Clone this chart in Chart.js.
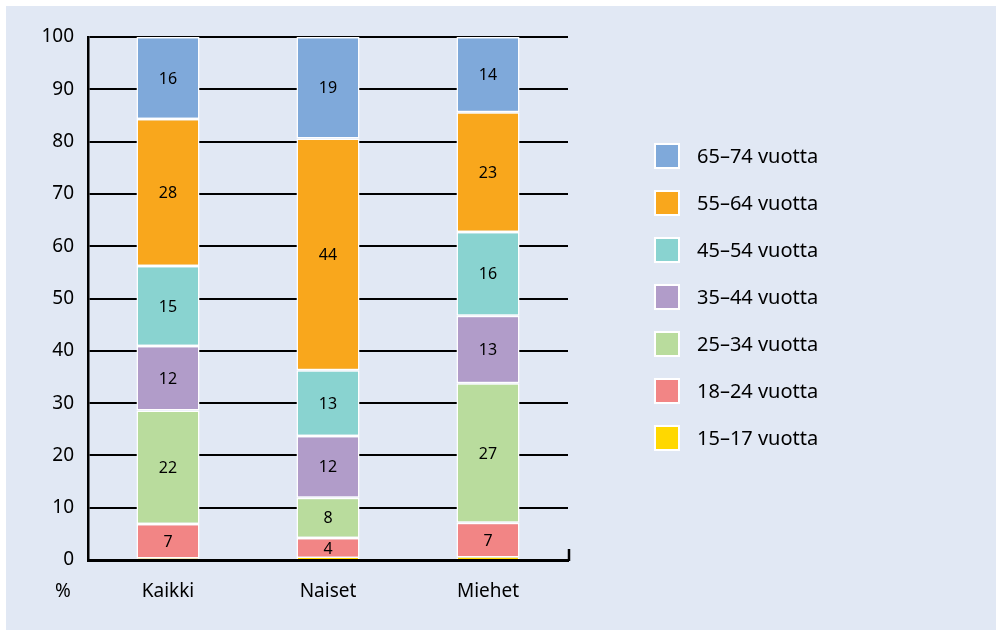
<!DOCTYPE html>
<html>
<head>
<meta charset="utf-8">
<script src="https://cdn.jsdelivr.net/npm/chart.js@4"></script>
<style>
  html, body { margin: 0; padding: 0; background: #ffffff; }
  #panel { position: absolute; left: 6px; top: 6px; width: 990px; height: 624px; background: #e1e8f4; }
  #chart { display: block; }
</style>
</head>
<body>
<div id="panel"><canvas id="chart" width="990" height="624"></canvas></div>
<script>
const categories = ["Kaikki", "Naiset", "Miehet"]

const ageGroups = ["15–17 vuotta", "18–24 vuotta", "25–34 vuotta", "35–44 vuotta", "45–54 vuotta", "55–64 vuotta", "65–74 vuotta"]
const colors = ["#ffd800", "#f28585", "#b9dc9d", "#b19cc9", "#89d3d0", "#f9a71c", "#7fa9da"]

// share of each age group, % (Kaikki, Naiset, Miehet)
const age15_17 = [0.3, 0.4, 0.5]
const age18_24 = [6.6, 3.8, 6.6]
const age25_34 = [21.7, 7.7, 26.7]
const age35_44 = [12.3, 11.8, 12.9]
const age45_54 = [15.3, 12.6, 16.0]
const age55_64 = [28.1, 44.3, 22.9]
const age65_74 = [15.7, 19.4, 14.4]

const yTicks = [0, 10, 20, 30, 40, 50, 60, 70, 80, 90, 100]

const series = [age15_17, age18_24, age25_34, age35_44, age45_54, age55_64, age65_74]
const FONT = "'Noto Sans', sans-serif"

const datasets = series.map((vals, i) => ({
    label: ageGroups[i],
    data: vals,
    backgroundColor: colors[i],
    borderColor: "#ffffff",
    borderWidth: i === 0 ? {left: 1.5, right: 1.5, top: 0, bottom: 0} : 1.5,
    borderSkipped: false,
    barPercentage: 0.394,
    categoryPercentage: 1
}))

// numbers inside the segments
const segmentLabels = {
    id: "segmentLabels",
    afterDatasetsDraw(chart) {
        const ctx = chart.ctx
        ctx.save()
        ctx.font = "16px " + FONT
        ctx.fillStyle = "#000"
        ctx.textAlign = "center"
        ctx.textBaseline = "middle"
        chart.data.datasets.forEach((ds, di) => {
            if (di === 0) return
            chart.getDatasetMeta(di).data.forEach((bar, i) => {
                const mid = (bar.y + bar.base) / 2
                ctx.fillText(String(Math.round(ds.data[i])), bar.x, mid + 1)
            })
        })
        ctx.restore()
    }
}

// axis end tick, % sign and legend
const extras = {
    id: "extras",
    afterDraw(chart) {
        const ctx = chart.ctx
        const a = chart.chartArea
        ctx.save()
        ctx.strokeStyle = "#000"
        ctx.lineWidth = 2.5
        ctx.beginPath()
        ctx.moveTo(a.right + 1, a.bottom + 1)
        ctx.lineTo(a.right + 1, a.bottom - 11)
        ctx.stroke()

        ctx.fillStyle = "#000"
        ctx.font = "19px " + FONT
        ctx.textAlign = "center"
        ctx.textBaseline = "middle"
        ctx.fillText("%", a.left - 25, a.bottom + 32)

        const ds = chart.data.datasets
        ctx.font = "20px " + FONT
        ctx.textAlign = "left"
        for (let k = 0; k < ds.length; k++) {
            const d = ds[ds.length - 1 - k]
            const cy = 150 + k * 47
            ctx.fillStyle = "#ffffff"
            ctx.fillRect(648, cy - 13, 26, 26)
            ctx.fillStyle = d.backgroundColor
            ctx.fillRect(650, cy - 11, 22, 22)
            ctx.fillStyle = "#000"
            ctx.fillText(d.label, 691, cy + 1)
        }
        ctx.restore()
    }
}

new Chart(document.getElementById("chart"), {
    type: "bar",
    data: { labels: categories, datasets: datasets },
    options: {
        responsive: false,
        animation: false,
        layout: { padding: { left: 32, right: 428, top: 31, bottom: 30 } },
        plugins: { legend: { display: false }, tooltip: { enabled: false } },
        scales: {
            x: {
                stacked: true,
                grid: { display: false, drawTicks: false },
                border: { color: "#000", width: 3 },
                ticks: { color: "#000", font: { family: FONT, size: 19 }, padding: 20 },
                afterFit: (s) => { s.height = 40 }
            },
            y: {
                stacked: true,
                min: 0, max: 100,
                afterBuildTicks: (s) => { s.ticks = yTicks.map(v => ({ value: v })) },
                grid: { color: "#000", lineWidth: 2, drawTicks: false },
                border: { color: "#000", width: 2.5 },
                ticks: { color: "#000", font: { family: FONT, size: 19 }, padding: 14 },
                afterFit: (s) => { s.width = 50 }
            }
        }
    },
    plugins: [segmentLabels, extras]
})
</script>
</body>
</html>
